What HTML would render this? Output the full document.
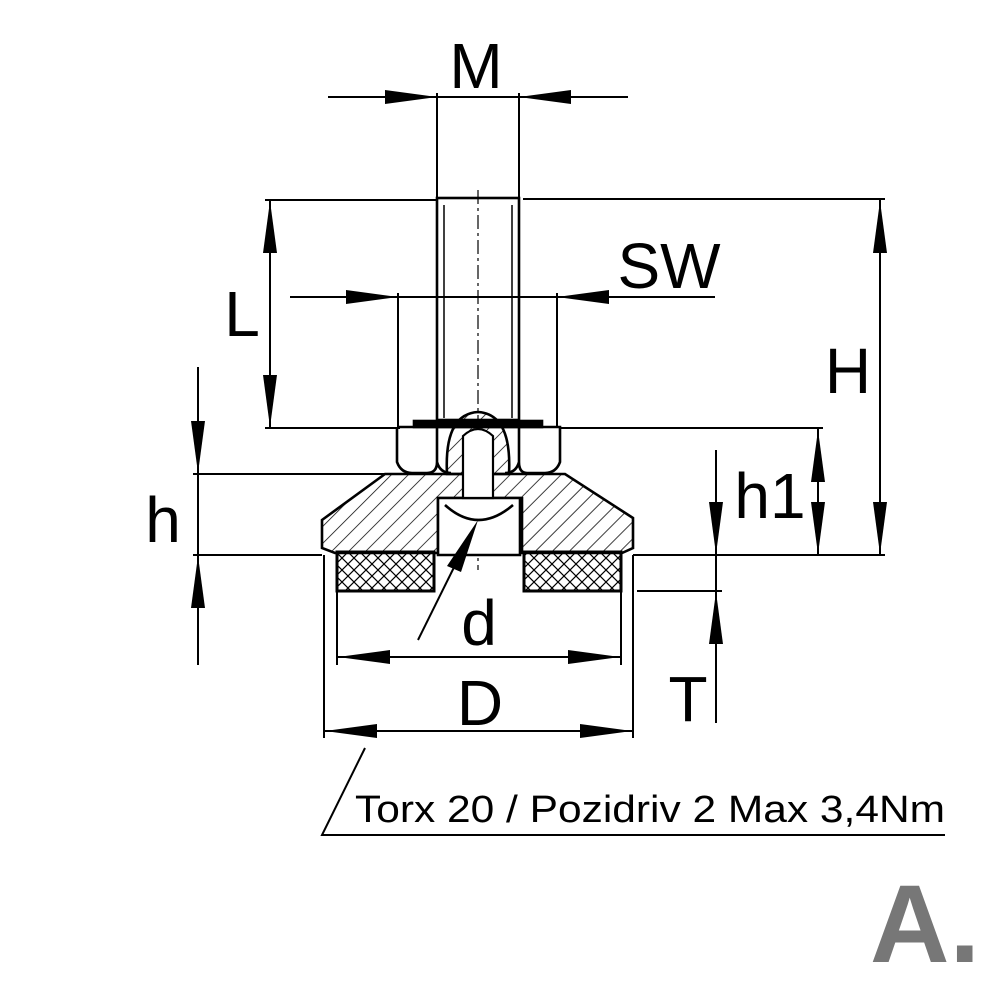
<!DOCTYPE html>
<html><head><style>html,body{margin:0;background:#fff}svg{display:block}</style></head><body>
<svg width="1000" height="1000" viewBox="0 0 1000 1000" xmlns="http://www.w3.org/2000/svg">
<defs>
<pattern id="hatch" patternUnits="userSpaceOnUse" width="12" height="12" patternTransform="rotate(45)">
<line x1="0" y1="0" x2="0" y2="12" stroke="#000" stroke-width="1.5"/></pattern>
<pattern id="cross" patternUnits="userSpaceOnUse" width="12" height="12">
<path d="M0 0L12 12M12 0L0 12" stroke="#000" stroke-width="1.2"/></pattern>
</defs>
<g stroke="#000" stroke-width="2.6" fill="none">
<!-- stud -->
<rect x="437" y="198" width="82" height="222"/>
<line x1="444" y1="205" x2="444" y2="418" stroke-width="1.5"/>
<line x1="512" y1="205" x2="512" y2="418" stroke-width="1.5"/>
<line x1="478" y1="190" x2="478" y2="570" stroke-width="1.2" stroke-dasharray="14 4 3 4"/>
<!-- washer -->
<rect x="414" y="421" width="128" height="6" fill="#000"/>
<!-- nut -->
<path d="M397 427H560V462Q556 473 545 473H527Q519 473 519 462V427M519 462Q516 473 505 473M397 427V462Q401 473 412 473H427Q437 473 437 462V427M437 462Q440 473 451 473"/>
<!-- base body -->
<path d="M385 474H565L633 518V548L622 553H522V498H438V553H335L322 548V520Z" fill="url(#hatch)"/>
<path d="M438 498H520V555H438Z" fill="#fff"/>
<path d="M445 505Q478 535 513 505" />
<!-- ball/shank -->
<path d="M447 474Q444 414 478 412Q512 414 509 474Z" fill="url(#hatch)"/>
<path d="M463 498V436Q478 422 493 436V498Z" fill="#fff" stroke-width="2.2"/>
<!-- pads -->
<rect x="337" y="552" width="97" height="39" fill="url(#cross)" stroke-width="3"/>
<rect x="524" y="552" width="97" height="39" fill="url(#cross)" stroke-width="3"/>
</g>
<g stroke="#000" stroke-width="2" fill="none">
<line x1="328" y1="97" x2="628" y2="97"/>
<line x1="437" y1="93" x2="437" y2="198"/><line x1="519" y1="93" x2="519" y2="198"/>
<line x1="523" y1="199" x2="885" y2="199"/>
<line x1="633" y1="555" x2="885" y2="555"/>
<line x1="880" y1="200" x2="880" y2="555"/>
<line x1="265" y1="200" x2="437" y2="200"/>
<line x1="270" y1="200" x2="270" y2="428"/>
<line x1="265" y1="428" x2="400" y2="428"/>
<line x1="560" y1="428" x2="823" y2="428"/>
<line x1="290" y1="297" x2="715" y2="297"/>
<line x1="398" y1="293" x2="398" y2="427"/><line x1="557" y1="293" x2="557" y2="427"/>
<line x1="198" y1="367" x2="198" y2="665"/>
<line x1="193" y1="474" x2="385" y2="474"/>
<line x1="193" y1="555" x2="322" y2="555"/>
<line x1="716" y1="450" x2="716" y2="723"/>
<line x1="818" y1="428" x2="818" y2="555"/>
<line x1="637" y1="591" x2="722" y2="591"/>
<line x1="337" y1="591" x2="337" y2="665"/><line x1="621" y1="591" x2="621" y2="665"/>
<line x1="337" y1="657" x2="621" y2="657"/>
<line x1="418" y1="640" x2="470" y2="535"/>
<line x1="324" y1="555" x2="324" y2="738"/><line x1="633" y1="555" x2="633" y2="738"/>
<line x1="324" y1="731" x2="633" y2="731"/>
<path d="M365 748L322 835H945"/>
</g>
<g fill="#000">
<path d="M437 97L385 90V104Z"/><path d="M519 97L571 90V104Z"/>
<path d="M880 201L873 253H887Z"/><path d="M880 554L873 502H887Z"/>
<path d="M270 201L263 253H277Z"/><path d="M270 427L263 375H277Z"/>
<path d="M398 297L346 290V304Z"/><path d="M557 297L609 290V304Z"/>
<path d="M198 473L191 421H205Z"/><path d="M198 556L191 608H205Z"/>
<path d="M716 554L709 502H723Z"/>
<path d="M818 430L811 482H825Z"/><path d="M818 554L811 502H825Z"/>
<path d="M716 592L709 644H723Z"/>
<path d="M338 657L390 650V664Z"/><path d="M620 657L568 650V664Z"/>
<path d="M478 520L447 566L461 572Z"/>
<path d="M325 731L377 724V738Z"/><path d="M632 731L580 724V738Z"/>
</g>
<g font-family="Liberation Sans, sans-serif" fill="#000" text-anchor="middle">
<text x="476" y="88" font-size="64">M</text>
<text x="669" y="288" font-size="64">SW</text>
<text x="242" y="336" font-size="64">L</text>
<text x="848" y="393" font-size="64">H</text>
<text x="163" y="542" font-size="64">h</text>
<text x="770" y="518" font-size="64">h1</text>
<text x="479" y="645" font-size="64">d</text>
<text x="480" y="725" font-size="64">D</text>
<text x="688" y="721" font-size="64">T</text>
<text x="355" y="822" font-size="38" text-anchor="start" textLength="590" lengthAdjust="spacingAndGlyphs">Torx 20 / Pozidriv 2 Max 3,4Nm</text>
<text x="925" y="962" font-size="110" font-weight="bold" fill="#777">A.</text>
</g>
</svg>
</body></html>
